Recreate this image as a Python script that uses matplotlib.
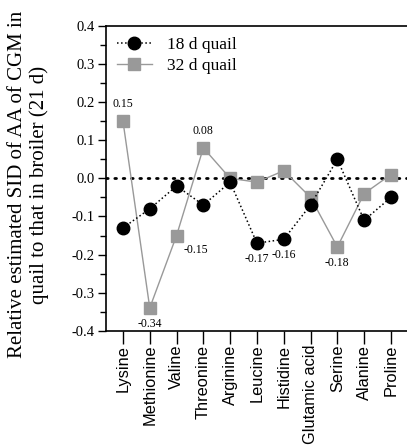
import matplotlib.pyplot as plt
from matplotlib.ticker import MultipleLocator

amino_acids = ['Lysine', 'Methionine', 'Valine', 'Threonine', 'Arginine', 'Leucine',
               'Histidine', 'Glutamic acid', 'Serine', 'Alanine', 'Proline']
quail_18d = [-0.13, -0.08, -0.02, -0.07, -0.01, -0.17, -0.16, -0.07, 0.05, -0.11, -0.05]
quail_32d = [0.15, -0.34, -0.15, 0.08, 0.0, -0.01, 0.02, -0.05, -0.18, -0.04, 0.01]

# points that carry a value label
labels_32d = [0, 1, 2, 3, 8]
labels_18d = [5, 6]


def main():
    plt.rcParams['font.family'] = ['Liberation Serif', 'DejaVu Serif']
    fig = plt.figure(figsize=(4.07, 4.47), dpi=100)
    ax = fig.add_axes([0.26, 0.26, 0.74, 0.682])

    x = list(range(len(amino_acids)))
    ax.axhline(0, color='black', lw=2, ls=(0, (0.6, 2.4)), dash_capstyle='round', zorder=1)
    ax.plot(x, quail_18d, color='black', ls=':', lw=1.1, marker='o', ms=9,
            label='18 d quail', zorder=3)
    ax.plot(x, quail_32d, color='#999999', ls='-', lw=1.0, marker='s', ms=9,
            label='32 d quail', zorder=2)

    for i in labels_32d:
        v = quail_32d[i]
        if v > 0:
            ax.annotate(f'{v:.2f}', (i, v), xytext=(0, 8), textcoords='offset points',
                        ha='center', va='bottom', fontsize=8.5)
        elif i == 2:
            ax.annotate(f'{v:.2f}', (i, v), xytext=(5, -6), textcoords='offset points',
                        ha='left', va='top', fontsize=8.5)
        else:
            ax.annotate(f'{v:.2f}', (i, v), xytext=(0, -7), textcoords='offset points',
                        ha='center', va='top', fontsize=8.5)
    for i in labels_18d:
        v = quail_18d[i]
        ax.annotate(f'{v:.2f}', (i, v), xytext=(0, -7), textcoords='offset points',
                    ha='center', va='top', fontsize=8.5)

    ax.set_xlim(-0.64, 10.6)
    ax.set_ylim(-0.4, 0.4)
    ax.yaxis.set_major_locator(MultipleLocator(0.1))
    ax.yaxis.set_minor_locator(MultipleLocator(0.05))
    ax.set_yticklabels([f'{t:.1f}' for t in ax.get_yticks()])
    ax.tick_params(axis='y', which='major', length=6, width=1, labelsize=10.5, pad=2)
    ax.tick_params(axis='y', which='minor', length=4, width=1)
    ax.set_xticks(x)
    ax.set_xticklabels(amino_acids, rotation=90,
                       family=['Liberation Sans', 'DejaVu Sans'], fontsize=11.8)
    ax.tick_params(axis='x', length=9, width=1, pad=1)

    ax.spines['right'].set_visible(False)
    for s in ['left', 'bottom', 'top']:
        ax.spines[s].set_linewidth(1.2)

    ax.set_ylabel('Relative estimated SID of AA of CGM in\nquail to that in broiler (21 d)',
                  fontsize=15, linespacing=1.1)
    ax.yaxis.set_label_coords(-0.19, 0.48)

    ax.legend(loc='upper left', frameon=False, fontsize=12.5, handlelength=2.0,
              borderaxespad=0.25, handletextpad=0.9, labelspacing=0.25)

    fig.savefig('out.png', dpi=100)


if __name__ == '__main__':
    main()
